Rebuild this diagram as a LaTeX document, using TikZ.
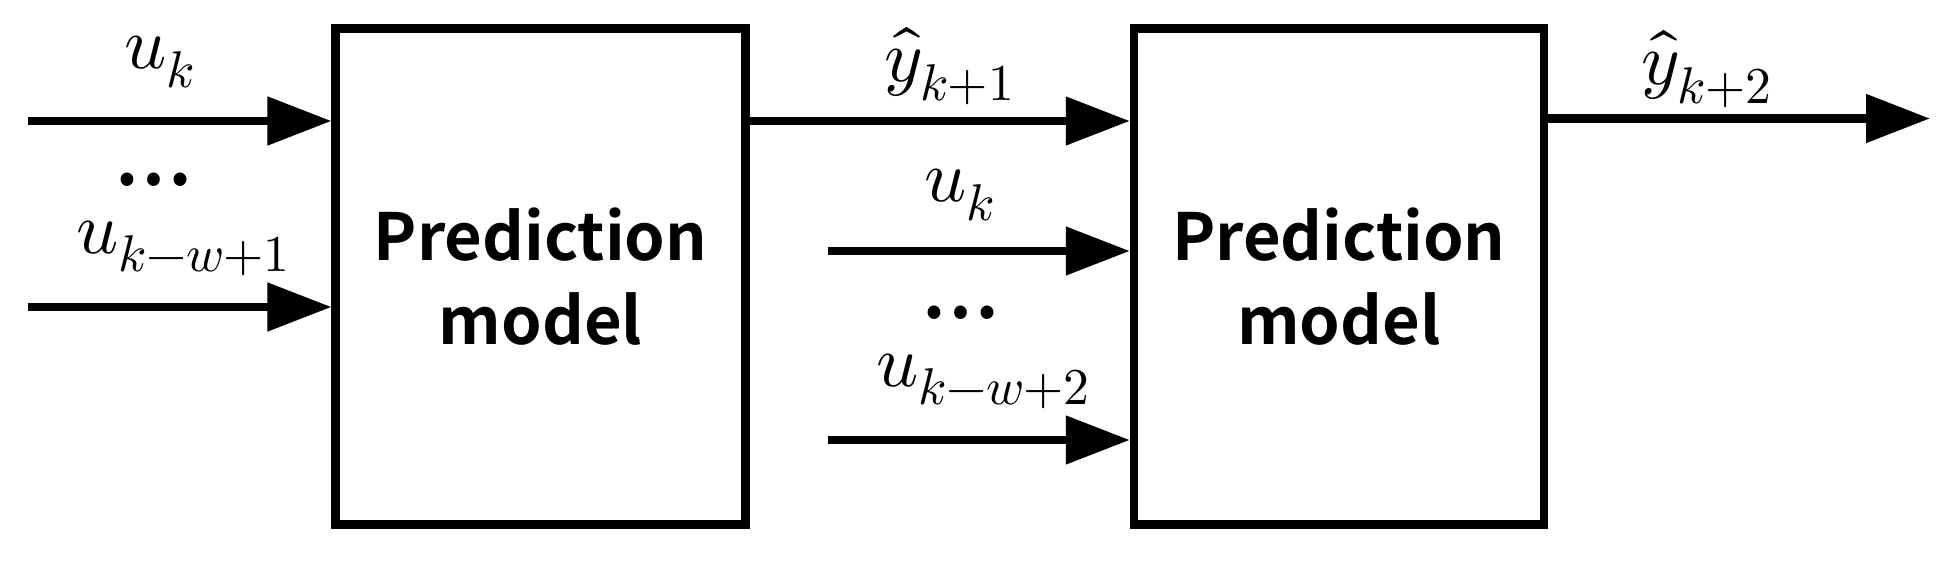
\documentclass[tikz,border=0pt]{standalone}
\usepackage{fontspec}
\usepackage{unicode-math}
\setmathfont{Latin Modern Math}
\newfontfamily\boxfont{Noto Sans CJK SC}[UprightFont={* Bold}]
\usetikzlibrary{arrows.meta,positioning}
\tikzset{
    model/.style={draw, line width=2.3pt, minimum width=4.1cm, minimum height=4.96cm,
        align=center, font=\boxfont\fontsize{18.5}{24}\selectfont},
    arr/.style={line width=2.3pt, -{Triangle[length=0.64cm, width=0.47cm]}},
    lab/.style={font=\fontsize{21}{24}\selectfont},
    ell/.style={font=\boxfont\fontsize{20}{24}\selectfont}
}
\begin{document}
\begin{tikzpicture}
    \useasboundingbox (0,0) rectangle (19.6,-5.63);
    % the two model blocks
    \node[model] (m1) at (5.405,-2.765) {Prediction\\model};
    \node[model] (m2) at (13.388,-2.765) {Prediction\\model};
    % inputs of the first block
    \coordinate (a1) at (0.28,-1.21);
    \coordinate (a2) at (0.28,-3.07);
    \draw[arr] (a1) -- (a1 -| m1.west);
    \draw[arr] (a2) -- (a2 -| m1.west);
    \node[lab] (uk1) at (1.60,-0.62) {$u_k$};
    \node[ell] (dots1) at (1.53,-1.80) {…};
    \node[lab] (ukw1) at (1.84,-2.48) {$u_{k-w+1}$};
    % first prediction fed forward
    \draw[arr] (m1.east |- a1) -- (m2.west |- a1);
    \node[lab] (yk1) at (9.50,-0.66) {$\hat{y}_{k+1}$};
    % inputs of the second block
    \coordinate (b1) at (8.28,-2.51);
    \coordinate (b2) at (8.28,-4.40);
    \draw[arr] (b1) -- (b1 -| m2.west);
    \draw[arr] (b2) -- (b2 -| m2.west);
    \node[lab] (uk2) at (9.60,-1.95) {$u_k$};
    \node[ell] (dots2) at (9.60,-3.13) {…};
    \node[lab] (ukw2) at (9.84,-3.81) {$u_{k-w+2}$};
    % output
    \coordinate (out) at (19.30,-1.185);
    \draw[arr] (m2.east |- out) -- (out);
    \node[lab] (yk2) at (17.07,-0.69) {$\hat{y}_{k+2}$};
\end{tikzpicture}
\end{document}
